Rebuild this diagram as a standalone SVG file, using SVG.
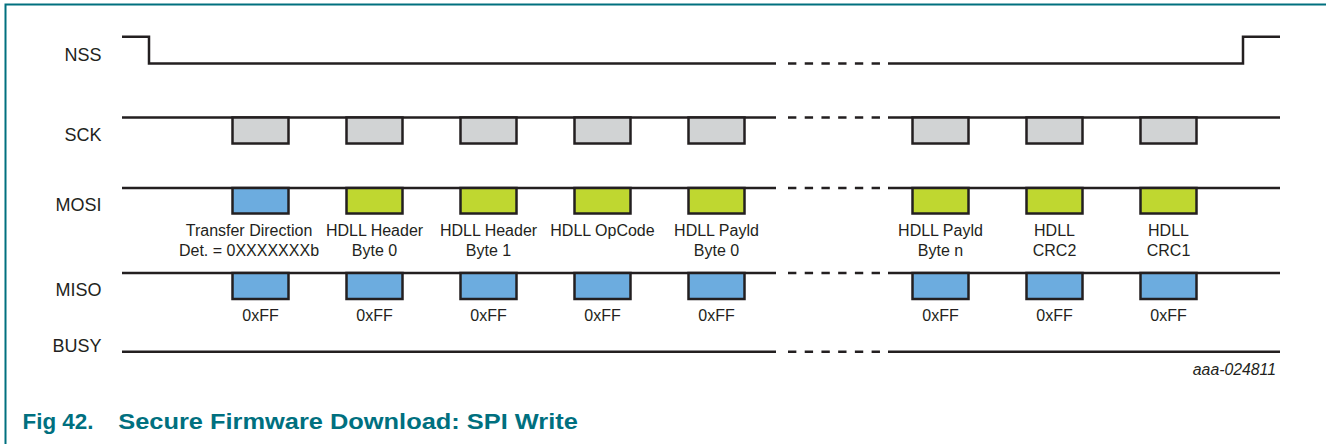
<svg xmlns="http://www.w3.org/2000/svg" width="1326" height="444" viewBox="0 0 1326 444">
<style>
.sig{fill:none;stroke:#231f20;stroke-width:2.5;stroke-linejoin:miter}
.dash{fill:none;stroke:#231f20;stroke-width:2.5;stroke-dasharray:8.36 8.36}
.box{stroke:#231f20;stroke-width:2.5}
.clk{fill:#d1d3d4}
.in{fill:#bfd730}
.out{fill:#6cacdf}
.name{font-family:"Liberation Sans",Arial,sans-serif;font-size:18px;fill:#231f20;text-anchor:end}
.lbl{font-family:"Liberation Sans",Arial,sans-serif;font-size:16px;fill:#231f20;text-anchor:middle}
.ref{font-family:"Liberation Sans",Arial,sans-serif;font-size:15.8px;font-style:italic;fill:#231f20;text-anchor:end}
.cap{font-family:"Liberation Sans",Arial,sans-serif;font-size:22.5px;font-weight:bold;fill:#00707f}
</style>
<path d="M1326 4.5 H5.5 V444" fill="none" stroke="#00707f" stroke-width="2"/>

<g id="labels">
<text class="name" x="101.5" y="60.7">NSS</text>
<text class="name" x="101.5" y="140.7">SCK</text>
<text class="name" x="101.5" y="210.7">MOSI</text>
<text class="name" x="101.5" y="296">MISO</text>
<text class="name" x="101.5" y="351.7">BUSY</text>
</g>

<g id="connectors">
<path class="sig" d="M122 36.7 H149 V63.5 H776"/>
<path class="sig" d="M888 63.5 H1243 V36.7 H1280"/>
<path class="sig" d="M122 117.5 H776 M888 117.5 H1280"/>
<path class="sig" d="M122 188 H776 M888 188 H1280"/>
<path class="sig" d="M122 273 H776 M888 273 H1280"/>
<path class="sig" d="M122 351.7 H776 M888 351.7 H1280"/>
<path class="dash" d="M788 63.5 H880 M788 117.5 H880 M788 188 H880 M788 273 H880 M788 351.7 H880"/>
</g>

<g id="sck">
<rect class="box clk" x="232.5" y="117.5" width="56" height="26"/>
<rect class="box clk" x="346.5" y="117.5" width="56" height="26"/>
<rect class="box clk" x="460.5" y="117.5" width="56" height="26"/>
<rect class="box clk" x="574.5" y="117.5" width="56" height="26"/>
<rect class="box clk" x="688.5" y="117.5" width="56" height="26"/>
<rect class="box clk" x="912.5" y="117.5" width="56" height="26"/>
<rect class="box clk" x="1026.5" y="117.5" width="56" height="26"/>
<rect class="box clk" x="1140.5" y="117.5" width="56" height="26"/>
</g>

<g id="mosi">
<rect class="box out" x="232.5" y="188" width="56" height="25.5"/>
<rect class="box in" x="346.5" y="188" width="56" height="25.5"/>
<rect class="box in" x="460.5" y="188" width="56" height="25.5"/>
<rect class="box in" x="574.5" y="188" width="56" height="25.5"/>
<rect class="box in" x="688.5" y="188" width="56" height="25.5"/>
<rect class="box in" x="912.5" y="188" width="56" height="25.5"/>
<rect class="box in" x="1026.5" y="188" width="56" height="25.5"/>
<rect class="box in" x="1140.5" y="188" width="56" height="25.5"/>
</g>

<g id="mosi-labels">
<text class="lbl" x="249" y="236">Transfer Direction</text>
<text class="lbl" x="249" y="256">Det. = 0XXXXXXXb</text>
<text class="lbl" x="374.5" y="236">HDLL Header</text>
<text class="lbl" x="374.5" y="256">Byte 0</text>
<text class="lbl" x="488.5" y="236">HDLL Header</text>
<text class="lbl" x="488.5" y="256">Byte 1</text>
<text class="lbl" x="602.5" y="236">HDLL OpCode</text>
<text class="lbl" x="716.5" y="236">HDLL Payld</text>
<text class="lbl" x="716.5" y="256">Byte 0</text>
<text class="lbl" x="940.5" y="236">HDLL Payld</text>
<text class="lbl" x="940.5" y="256">Byte n</text>
<text class="lbl" x="1054.5" y="236">HDLL</text>
<text class="lbl" x="1054.5" y="256">CRC2</text>
<text class="lbl" x="1168.5" y="236">HDLL</text>
<text class="lbl" x="1168.5" y="256">CRC1</text>
</g>

<g id="miso">
<rect class="box out" x="232.5" y="273" width="56" height="26"/>
<rect class="box out" x="346.5" y="273" width="56" height="26"/>
<rect class="box out" x="460.5" y="273" width="56" height="26"/>
<rect class="box out" x="574.5" y="273" width="56" height="26"/>
<rect class="box out" x="688.5" y="273" width="56" height="26"/>
<rect class="box out" x="912.5" y="273" width="56" height="26"/>
<rect class="box out" x="1026.5" y="273" width="56" height="26"/>
<rect class="box out" x="1140.5" y="273" width="56" height="26"/>
</g>

<g id="miso-labels">
<text class="lbl" x="260.5" y="321">0xFF</text>
<text class="lbl" x="374.5" y="321">0xFF</text>
<text class="lbl" x="488.5" y="321">0xFF</text>
<text class="lbl" x="602.5" y="321">0xFF</text>
<text class="lbl" x="716.5" y="321">0xFF</text>
<text class="lbl" x="940.5" y="321">0xFF</text>
<text class="lbl" x="1054.5" y="321">0xFF</text>
<text class="lbl" x="1168.5" y="321">0xFF</text>
</g>

<text class="ref" x="1276" y="375">aaa-024811</text>
<g id="caption">
<text class="cap" x="22.5" y="429.3" textLength="71" lengthAdjust="spacingAndGlyphs">Fig 42.</text>
<text class="cap" x="118.3" y="429.3" textLength="459.5" lengthAdjust="spacingAndGlyphs">Secure Firmware Download: SPI Write</text>
</g>
</svg>
